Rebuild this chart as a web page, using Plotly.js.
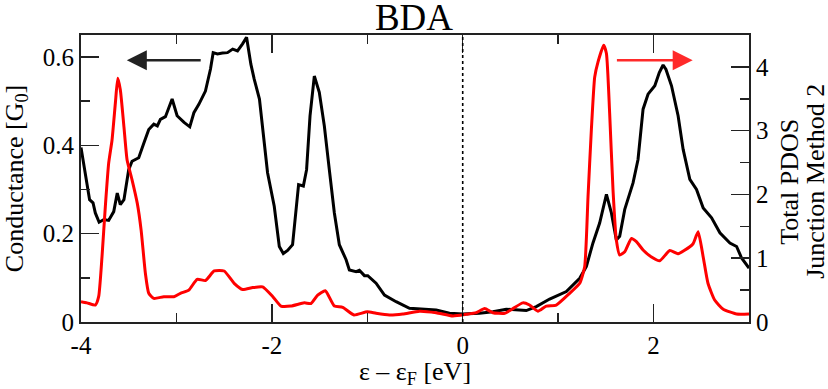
<!DOCTYPE html>
<html>
<head>
<meta charset="utf-8">
<script src="https://cdn.plot.ly/plotly-3.0.1.min.js"></script>
<style>html,body{margin:0;padding:0;background:#fff;}#chart{width:828px;height:389px;}</style>
</head>
<body>
<div id="chart"></div>
<script>
// Conductance (left axis, black)
const condE = [-4.0,-3.955,-3.91,-3.874,-3.85,-3.81,-3.76,-3.71,-3.657,-3.62,-3.588,-3.55,-3.50,-3.465,-3.395,-3.34,-3.29,-3.237,-3.20,-3.168,-3.115,-3.045,-2.993,-2.92,-2.86,-2.817,-2.765,-2.696,-2.643,-2.615,-2.57,-2.517,-2.465,-2.41,-2.36,-2.307,-2.265,-2.22,-2.185,-2.13,-2.097,-2.045,-1.975,-1.922,-1.88,-1.835,-1.783,-1.747,-1.72,-1.67,-1.636,-1.60,-1.555,-1.503,-1.45,-1.398,-1.345,-1.293,-1.222,-1.188,-1.117,-1.083,-1.03,-0.995,-0.908,-0.82,-0.698,-0.558,-0.418,-0.278,-0.138,0.0,0.176,0.316,0.456,0.666,0.771,0.911,1.086,1.226,1.296,1.365,1.435,1.506,1.558,1.61,1.645,1.698,1.785,1.837,1.89,1.942,2.013,2.06,2.10,2.13,2.188,2.257,2.31,2.38,2.45,2.52,2.608,2.695,2.80,2.87,2.922,3.0];
const condG = [0.395,0.338,0.277,0.27,0.247,0.226,0.232,0.23,0.25,0.292,0.266,0.277,0.345,0.364,0.372,0.406,0.436,0.448,0.444,0.459,0.465,0.505,0.467,0.452,0.442,0.474,0.493,0.523,0.573,0.61,0.607,0.609,0.61,0.618,0.614,0.63,0.645,0.584,0.55,0.505,0.436,0.338,0.262,0.171,0.155,0.162,0.175,0.255,0.311,0.308,0.345,0.467,0.557,0.52,0.444,0.345,0.247,0.175,0.141,0.118,0.114,0.117,0.105,0.105,0.088,0.061,0.046,0.031,0.029,0.027,0.02,0.018,0.02,0.023,0.029,0.026,0.035,0.052,0.069,0.099,0.126,0.179,0.224,0.289,0.247,0.186,0.194,0.255,0.315,0.368,0.482,0.516,0.535,0.565,0.582,0.572,0.535,0.467,0.391,0.323,0.30,0.258,0.236,0.202,0.179,0.171,0.145,0.122];

// Total PDOS (right axis, red)
const pdosE = [-4.0,-3.937,-3.85,-3.815,-3.78,-3.745,-3.71,-3.675,-3.64,-3.615,-3.588,-3.55,-3.517,-3.465,-3.41,-3.37,-3.325,-3.29,-3.237,-3.132,-3.027,-2.958,-2.87,-2.783,-2.696,-2.604,-2.5,-2.395,-2.307,-2.20,-2.097,-1.99,-1.905,-1.80,-1.66,-1.59,-1.52,-1.44,-1.345,-1.258,-1.14,-1.0,-0.908,-0.768,-0.628,-0.453,-0.278,-0.104,0.037,0.142,0.23,0.316,0.44,0.526,0.63,0.70,0.788,0.876,0.98,1.12,1.226,1.278,1.313,1.348,1.383,1.418,1.477,1.506,1.54,1.575,1.61,1.645,1.698,1.768,1.82,1.89,1.978,2.065,2.17,2.257,2.38,2.415,2.467,2.52,2.57,2.64,2.73,2.87,3.0];
const pdosD = [0.318,0.30,0.266,0.397,1.02,1.81,2.49,2.85,3.43,3.82,3.64,3.06,2.54,2.23,1.86,1.44,0.76,0.45,0.37,0.397,0.397,0.45,0.50,0.67,0.65,0.80,0.80,0.607,0.51,0.54,0.55,0.397,0.25,0.25,0.30,0.29,0.42,0.49,0.25,0.23,0.11,0.16,0.136,0.11,0.125,0.17,0.146,0.094,0.12,0.146,0.21,0.146,0.136,0.21,0.30,0.266,0.17,0.25,0.266,0.45,0.607,0.867,1.96,3.01,3.84,4.08,4.34,4.21,3.27,2.07,1.285,1.05,1.10,1.31,1.26,1.13,1.02,0.96,1.12,1.07,1.18,1.23,1.415,1.02,0.607,0.345,0.2,0.125,0.125];

const xTickVals = [-4,-2,0,2];
const xTickText = ['-4','-2','0','2'];
const yTickVals = [0,0.2,0.4,0.6];
const yTickText = ['0','0.2','0.4','0.6'];
const y2TickVals = [0,1,2,3,4];
const y2TickText = ['0','1','2','3','4'];
const rightTitleLines = ['Total PDOS', 'Junction Method 2'];

const FONT = 'Liberation Serif, Times New Roman, serif';
const frame = '#222';

const traces = [
  {x: condE, y: condG, type: 'scatter', mode: 'lines', yaxis: 'y',
   line: {color: '#000000', width: 3}, hoverinfo: 'skip'},
  {x: pdosE, y: pdosD, type: 'scatter', mode: 'lines', yaxis: 'y2',
   line: {color: '#ff0000', width: 3, shape: 'spline', smoothing: 0.5}, hoverinfo: 'skip'}
];

const layout = {
  width: 828, height: 389,
  margin: {l: 81, r: 79, t: 35, b: 67},
  paper_bgcolor: '#fff', plot_bgcolor: '#fff',
  showlegend: false,
  font: {family: FONT, color: '#000', size: 25},
  title: {text: 'BDA', font: {family: FONT, size: 37, color: '#000'},
          x: 0.5, xanchor: 'center', y: 0.955, yanchor: 'middle', yref: 'container'},
  xaxis: {
    range: [-4, 3], tickmode: 'array', tickvals: xTickVals, ticktext: xTickText,
    ticks: 'inside', ticklen: 18, tickwidth: 1.5, tickcolor: frame,
    minor: {dtick: 1, tick0: 0, ticks: 'inside', ticklen: 9, tickwidth: 1.5, tickcolor: frame, showgrid: false},
    showline: true, linecolor: frame, linewidth: 2, mirror: 'ticks',
    showgrid: false, zeroline: false,
    tickfont: {family: FONT, size: 25, color: '#000'},
    title: {text: 'ε – ε<sub>F</sub> [eV]', font: {family: FONT, size: 26, color: '#000'}, standoff: 3}
  },
  yaxis: {
    range: [0, 0.65], tickmode: 'array', tickvals: yTickVals, ticktext: yTickText,
    ticks: 'inside', ticklen: 18, tickwidth: 1.5, tickcolor: frame,
    minor: {dtick: 0.1, tick0: 0, ticks: 'inside', ticklen: 9, tickwidth: 1.5, tickcolor: frame, showgrid: false},
    showline: true, linecolor: frame, linewidth: 2,
    showgrid: false, zeroline: false,
    tickfont: {family: FONT, size: 25, color: '#000'},
    title: {text: 'Conductance [G<sub>0</sub>]', font: {family: FONT, size: 26, color: '#000'}, standoff: 14}
  },
  yaxis2: {
    overlaying: 'y', side: 'right',
    range: [0, 4.5], tickmode: 'array', tickvals: y2TickVals, ticktext: y2TickText,
    ticks: 'inside', ticklen: 18, tickwidth: 1.5, tickcolor: frame,
    minor: {dtick: 0.5, tick0: 0, ticks: 'inside', ticklen: 9, tickwidth: 1.5, tickcolor: frame, showgrid: false},
    showline: true, linecolor: frame, linewidth: 2,
    showgrid: false, zeroline: false,
    tickfont: {family: FONT, size: 25, color: '#000'}
  },
  shapes: [
    {type: 'line', xref: 'x', yref: 'paper', x0: 0, x1: 0, y0: 0, y1: 1,
     line: {color: '#000', width: 1.6, dash: 'dot'}}
  ],
  annotations: [
    {xref: 'x', yref: 'y', axref: 'x', ayref: 'y', x: -3.52, y: 0.593, ax: -2.73, ay: 0.593,
     text: '', showarrow: true, arrowhead: 2, arrowsize: 1.6, arrowwidth: 2.5, arrowcolor: '#222'},
    {xref: 'x', yref: 'y', axref: 'x', ayref: 'y', x: 2.41, y: 0.593, ax: 1.60, ay: 0.593,
     text: '', showarrow: true, arrowhead: 2, arrowsize: 1.6, arrowwidth: 2.5, arrowcolor: '#ff2a2a'},
    {xref: 'paper', yref: 'paper', x: 1.0605, y: 0.49, xanchor: 'center', yanchor: 'middle',
     text: rightTitleLines[0], textangle: -90, showarrow: false,
     font: {family: FONT, size: 26, color: '#000'}},
    {xref: 'paper', yref: 'paper', x: 1.0995, y: 0.49, xanchor: 'center', yanchor: 'middle',
     text: rightTitleLines[1], textangle: -90, showarrow: false,
     font: {family: FONT, size: 26, color: '#000'}}
  ]
};

Plotly.newPlot('chart', traces, layout, {staticPlot: true, displayModeBar: false});
</script>
</body>
</html>
